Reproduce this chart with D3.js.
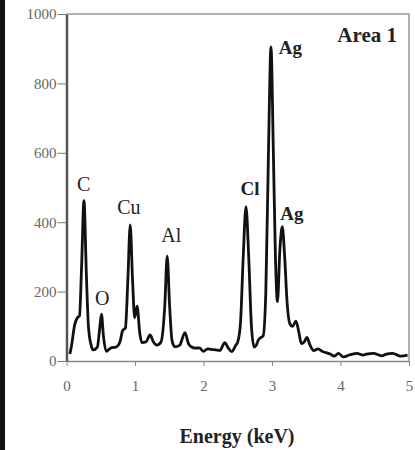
<!DOCTYPE html>
<html>
<head>
<meta charset="utf-8">
<script src="https://cdn.jsdelivr.net/npm/d3@7"></script>
<style>
  body { margin: 0; background: #fff; }
  text { font-family: "Liberation Serif", "Times New Roman", serif; }
</style>
</head>
<body>
<div id="chart"></div>
<script>
// spectrum (energy keV, counts)
const energy = [0.05, 0.07, 0.12, 0.16, 0.19, 0.22, 0.255, 0.29, 0.32, 0.36, 0.39, 0.45, 0.48, 0.51, 0.54, 0.58,
  0.65, 0.72, 0.78, 0.82, 0.86, 0.895, 0.93, 0.965, 0.995, 1.03, 1.07, 1.10, 1.16, 1.22, 1.27, 1.32, 1.38,
  1.435, 1.47, 1.505, 1.54, 1.58, 1.65, 1.73, 1.78, 1.82, 1.88, 1.94, 2.00, 2.06, 2.12, 2.18, 2.24, 2.31,
  2.36, 2.41, 2.47, 2.50, 2.54, 2.58, 2.62, 2.66, 2.70, 2.74, 2.77, 2.80, 2.84, 2.87, 2.91, 2.95, 2.985,
  3.02, 3.05, 3.08, 3.115, 3.15, 3.185, 3.22, 3.26, 3.30, 3.35, 3.39, 3.43, 3.47, 3.51, 3.55, 3.61, 3.67,
  3.73, 3.79, 3.85, 3.91, 3.97, 4.04, 4.14, 4.24, 4.33, 4.38, 4.48, 4.60, 4.67, 4.76, 4.88, 4.98];
const counts = [20, 40, 105, 125, 130, 270, 462, 250, 100, 45, 32, 40, 85, 135, 70, 28,
  38, 40, 55, 88, 95, 230, 392, 230, 125, 158, 80, 53, 55, 75, 55, 46, 55,
  160, 302, 160, 60, 41, 45, 82, 50, 41, 37, 38, 28, 35, 33, 32, 30, 53,
  38, 27, 45, 55, 110, 300, 445, 300, 100, 40, 45, 60, 68, 72, 200, 620, 905,
  600, 300, 171, 320, 387, 300, 170, 108, 100, 115, 85, 50, 55, 68, 48, 30, 35,
  28, 24, 20, 14, 22, 12, 18, 22, 17, 20, 22, 15, 20, 22, 14, 17];

const xTicks = [0, 1, 2, 3, 4, 5];
const yTicks = [0, 200, 400, 600, 800, 1000];

// peak labels: element, energy, counts where the label sits, bold?
const peakNames = ["C", "O", "Cu", "Al", "Cl", "Ag", "Ag"];
const peakX = [0.25, 0.52, 0.91, 1.53, 2.68, 3.1, 3.12];
const peakY = [490, 160, 425, 344, 479, 886, 405];
const peakBold = [false, false, false, false, true, true, true];

const margin = { top: 14, bottom: 89, right: 6, left: 66.5 };
const width = 415 - margin.left - margin.right;
const height = 450 - margin.top - margin.bottom;

const svg = d3.select("#chart")
    .append("svg")
    .attr("width", 415)
    .attr("height", 450);

// dark strip at the left edge of the scan
svg.append("rect").attr("x", 0).attr("y", 0).attr("width", 5).attr("height", 450).attr("fill", "#111");

const chart = svg.append("g")
    .attr("transform", `translate(${margin.left}, ${margin.top})`);

const x = d3.scaleLinear().domain([0, 5]).range([0, width]);
const y = d3.scaleLinear().domain([0, 1000]).range([height, 0]);

const serif = "'Liberation Serif', 'Times New Roman', serif";

// frame top + right
chart.append("path")
    .attr("d", `M0,0H${width}V${height}`)
    .attr("fill", "none")
    .attr("stroke", "#999")
    .attr("stroke-width", 1.5);

chart.append("g")
    .attr("transform", "translate(0," + height + ")")
    .call(d3.axisBottom(x).tickValues(xTicks).tickFormat(d3.format("d")).tickSize(5).tickSizeOuter(0).tickPadding(14))
    .attr("font-family", serif)
    .attr("font-size", 15)
    .call(g => g.select(".domain").attr("stroke", "#888").attr("stroke-width", 1.5))
    .call(g => g.selectAll(".tick line").attr("stroke", "#888"))
    .call(g => g.selectAll("text").attr("fill", "#666"));

chart.append("g")
    .call(d3.axisLeft(y).tickValues(yTicks).tickFormat(d3.format("d")).tickSize(9).tickSizeOuter(0).tickPadding(1))
    .attr("font-family", serif)
    .attr("font-size", 15)
    .call(g => g.select(".domain").attr("stroke", "#555").attr("stroke-width", 2.5))
    .call(g => g.selectAll(".tick line").attr("stroke", "#777"))
    .call(g => g.selectAll("text").attr("fill", "#666"));

const spectrum = energy.map((e, i) => [e, counts[i]]);

chart.append("path")
    .datum(spectrum)
    .attr("fill", "none")
    .attr("stroke", "#111")
    .attr("stroke-width", 2.8)
    .attr("stroke-linejoin", "round")
    .attr("d", d3.line().x(d => x(d[0])).y(d => y(d[1])).curve(d3.curveMonotoneX));

chart.append("g")
    .selectAll("text")
    .data(peakNames)
    .join("text")
    .attr("x", (d, i) => x(peakX[i]))
    .attr("y", (d, i) => y(peakY[i]))
    .attr("text-anchor", (d, i) => i >= 5 ? "start" : "middle")
    .attr("fill", "#222")
    .style("font-size", (d, i) => peakBold[i] ? "19px" : "20px")
    .style("font-weight", (d, i) => peakBold[i] ? "bold" : "normal")
    .text(d => d);

chart.append("text")
    .attr("x", width - 12)
    .attr("y", 28)
    .attr("text-anchor", "end")
    .attr("fill", "#222")
    .style("font-size", "21px")
    .style("font-weight", "bold")
    .text("Area 1");

svg.append("text")
    .attr("x", 237)
    .attr("y", 443)
    .attr("text-anchor", "middle")
    .attr("fill", "#222")
    .style("font-size", "20px")
    .style("font-weight", "bold")
    .text("Energy (keV)");
</script>
</body>
</html>
